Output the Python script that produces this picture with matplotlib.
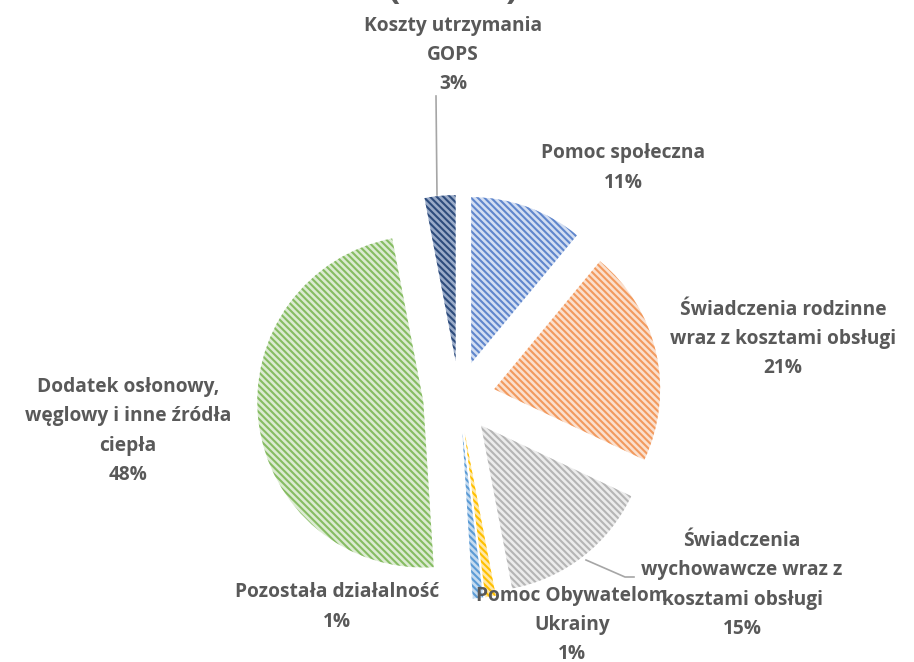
import matplotlib.pyplot as plt
import matplotlib as mpl

# data (Excel pie, clockwise from 12 o'clock)
labels = ["Pomoc społeczna",
          "Świadczenia rodzinne\nwraz z kosztami obsługi",
          "Świadczenia\nwychowawcze wraz z\nkosztami obsługi",
          "Pomoc Obywatelom\nUkrainy",
          "Pozostała działalność",
          "Dodatek osłonowy,\nwęglowy i inne źródła\nciepła",
          "Koszty utrzymania\nGOPS"]
shares = [11, 21, 15, 1, 1, 48, 3]

# styles
face = ["#D3DEF2", "#FBE0CE", "#ECECEC", "#FFE8A6", "#C5DBF0", "#DCEBD2", "#9AABC8"]
stripe = ["#5F86CC", "#F29A5E", "#B5B5B5", "#FFC000", "#5B9BD5", "#86BC62", "#2E4C7C"]
label_pos = [(623, 168), (783, 339), (742, 585), (572, 625), (337, 607), (128, 431), (453, 55)]

W, H = 914, 662
mpl.rcParams['hatch.linewidth'] = 1.5
plt.rcParams['font.family'] = ['Open Sans', 'DejaVu Sans']

fig = plt.figure(figsize=(W / 100, H / 100), dpi=100)
ax = fig.add_axes([0, 0, 1, 1])

cx, cy, r = 459, 397, 166
wedges, _ = ax.pie(shares, radius=r, center=(cx, -cy), startangle=90,
                   counterclock=False, explode=[36] * len(shares),
                   wedgeprops=dict(linewidth=0), frame=True)
# pie draws in y-up coords; mirror it into the y-down axis
tr = mpl.transforms.Affine2D().scale(1, -1) + ax.transData
for w, fc, sc in zip(wedges, face, stripe):
    w.set_facecolor(fc)
    w.set_edgecolor(sc)
    w.set_hatch('\\\\\\\\\\')
    w.set_transform(tr)
ax.set_xlim(0, W)
ax.set_ylim(H, 0)
ax.set_aspect('equal')
ax.axis('off')

for lab, s, (x, y) in zip(labels, shares, label_pos):
    ax.text(x, y, "%s\n%d%%" % (lab, s), ha='center', va='center',
            fontsize=13.8, fontweight='bold', color='#595959',
            linespacing=1.62)

# leader lines
ax.plot([436, 437], [96, 195], color='#A6A6A6', lw=1.2)
ax.plot([586, 625, 634], [560, 577, 577], color='#A6A6A6', lw=1.2)

# title (cut off at the top)
ax.text(394, 8, "(", ha='center', va='bottom', fontsize=26,
        fontweight='bold', color='#595959')
ax.text(512, 8, ")", ha='center', va='bottom', fontsize=26,
        fontweight='bold', color='#595959')

fig.savefig("out.png", dpi=100)
